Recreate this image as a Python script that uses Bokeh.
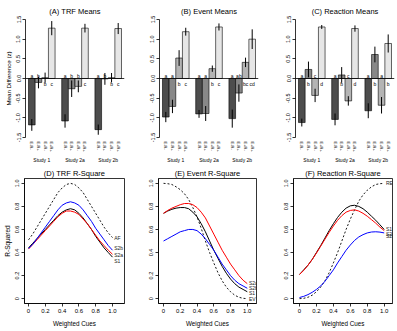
from bokeh.plotting import figure
from bokeh.models import Range1d, FixedTicker, LinearAxis, Span
from bokeh.layouts import row, column
from bokeh.embed import file_html
from bokeh.resources import INLINE
from bokeh.core.properties import value

FONT = "Liberation Sans"

# ---------------- data ----------------
studies = ["Study 1", "Study 2a", "Study 2b"]
conds = ["E-R-", "E-R+", "E+R-", "E+R+"]
bar_colors = ["#4D4D4D", "#888888", "#B4B4B4", "#E6E6E6"]

trf_means = [[-1.18, -0.10, 0.02, 1.28], [-1.08, -0.26, -0.20, 1.28], [-1.30, -0.01, 0.02, 1.27]]
trf_errs = [[0.15, 0.15, 0.13, 0.18], [0.17, 0.21, 0.15, 0.11], [0.13, 0.15, 0.12, 0.14]]
trf_letters = [["a", "b", "b", "c"], ["a", "b", "b", "c"], ["a", "b", "b", "c"]]

ev_means = [[-0.98, -0.71, 0.52, 1.19], [-0.90, -0.89, 0.25, 1.31], [-1.02, -0.37, 0.41, 1.00]]
ev_errs = [[0.13, 0.17, 0.20, 0.10], [0.10, 0.19, 0.08, 0.09], [0.23, 0.22, 0.12, 0.25]]
ev_letters = [["a", "a", "b", "c"], ["a", "a", "b", "c"], ["a", "ab", "bc", "cd"]]

re_means = [[-1.12, 0.23, -0.43, 1.31], [-1.04, 0.09, -0.57, 1.27], [-0.82, 0.61, -0.68, 0.89]]
re_errs = [[0.10, 0.20, 0.17, 0.05], [0.15, 0.20, 0.12, 0.08], [0.19, 0.20, 0.21, 0.23]]
re_letters = [["a", "b", "c", "d"], ["a", "b", "c", "d"], ["a", "b", "a", "b"]]

weights = [0.0, 0.05, 0.1, 0.15, 0.2, 0.25, 0.3, 0.35, 0.4, 0.45, 0.5,
           0.55, 0.6, 0.65, 0.7, 0.75, 0.8, 0.85, 0.9, 0.95, 1.0]

trf_af = [0.51, 0.56, 0.62, 0.68, 0.74, 0.80, 0.86, 0.92, 0.96, 0.99, 1.00,
          0.99, 0.96, 0.92, 0.86, 0.80, 0.74, 0.68, 0.62, 0.57, 0.53]
trf_s1 = [0.44, 0.48, 0.52, 0.56, 0.60, 0.64, 0.68, 0.72, 0.75, 0.77, 0.78,
          0.77, 0.74, 0.70, 0.65, 0.60, 0.54, 0.49, 0.44, 0.40, 0.36]
trf_s2a = [0.43, 0.47, 0.51, 0.55, 0.59, 0.63, 0.67, 0.71, 0.74, 0.76, 0.76,
           0.75, 0.73, 0.69, 0.65, 0.60, 0.55, 0.50, 0.46, 0.42, 0.385]
trf_s2b = [0.435, 0.47, 0.52, 0.57, 0.62, 0.67, 0.72, 0.77, 0.81, 0.83, 0.84,
           0.83, 0.81, 0.77, 0.72, 0.67, 0.61, 0.56, 0.51, 0.46, 0.42]

ev_ev = [1.0, 0.997, 0.99, 0.97, 0.945, 0.91, 0.86, 0.79, 0.71, 0.61, 0.50,
         0.40, 0.31, 0.225, 0.155, 0.10, 0.06, 0.03, 0.012, 0.003, 0.0]
ev_s1 = [0.74, 0.76, 0.775, 0.785, 0.79, 0.79, 0.78, 0.75, 0.71, 0.65, 0.58,
         0.50, 0.42, 0.35, 0.28, 0.22, 0.17, 0.13, 0.10, 0.08, 0.06]
ev_s2a = [0.74, 0.765, 0.785, 0.80, 0.815, 0.825, 0.825, 0.815, 0.79, 0.75, 0.70,
          0.63, 0.56, 0.49, 0.42, 0.36, 0.30, 0.25, 0.20, 0.16, 0.13]
ev_s2b = [0.50, 0.52, 0.54, 0.56, 0.58, 0.59, 0.60, 0.60, 0.59, 0.56, 0.52,
          0.47, 0.42, 0.36, 0.30, 0.25, 0.20, 0.16, 0.13, 0.11, 0.09]

re_re = [0.0, 0.003, 0.012, 0.03, 0.06, 0.10, 0.155, 0.225, 0.31, 0.40, 0.50,
         0.60, 0.69, 0.77, 0.845, 0.90, 0.94, 0.97, 0.99, 0.997, 1.0]
re_s1 = [0.21, 0.25, 0.29, 0.34, 0.40, 0.46, 0.525, 0.59, 0.65, 0.705, 0.75,
         0.785, 0.805, 0.81, 0.80, 0.78, 0.75, 0.715, 0.68, 0.64, 0.60]
re_s2a = [0.21, 0.245, 0.29, 0.34, 0.395, 0.455, 0.515, 0.575, 0.63, 0.68, 0.72,
          0.75, 0.765, 0.77, 0.76, 0.74, 0.715, 0.685, 0.655, 0.62, 0.59]
re_s2b = [0.01, 0.02, 0.035, 0.055, 0.08, 0.11, 0.15, 0.20, 0.25, 0.31, 0.365,
          0.42, 0.465, 0.505, 0.535, 0.555, 0.57, 0.578, 0.58, 0.577, 0.57]

y_bar_ticks = [-1.5, -1.0, -0.5, 0.0, 0.5, 1.0, 1.5]
y_bar_labels = ["-1.5", "-1.0", "-0.5", "0.0", "0.5", "1.0", "1.5"]
r_ticks = [0.0, 0.2, 0.4, 0.6, 0.8, 1.0]
r_tick_labels = ["0", "0.2", "0.4", "0.6", "0.8", "1.0"]


def style_axis(ax, size):
    ax.major_label_text_font = FONT
    ax.major_label_text_font_size = size
    ax.major_label_text_color = "black"
    ax.axis_label_text_font = FONT
    ax.axis_label_text_font_style = "normal"
    ax.axis_label_text_color = "black"
    ax.minor_tick_line_color = None
    ax.major_tick_in = 0
    ax.major_tick_out = 3
    ax.axis_line_width = 0.8
    ax.major_tick_line_width = 0.8
    ax.major_label_standoff = 2


def set_title(p, text, standoff):
    p.title.text = text
    p.title.align = "center"
    p.title.text_font = FONT
    p.title.text_font_size = "7.5px"
    p.title.text_font_style = "normal"
    p.title.text_color = "black"
    p.title.standoff = standoff


def bar_panel(title, means, errs, letters, width, left, right, ylabel=None):
    p = figure(width=width, height=165, x_range=Range1d(-0.45, 14.45), y_range=Range1d(-1.5, 1.5),
               output_backend="svg", toolbar_location=None, x_axis_location=None,
               min_border_left=left, min_border_right=right, min_border_top=17, min_border_bottom=26)
    p.outline_line_color = None
    p.grid.visible = False
    set_title(p, title, 8)

    xs, tops, cols, lo, hi = [], [], [], [], []
    lx, ly, lt = [], [], []
    for g in range(3):
        for j in range(4):
            x = g * 5 + j + 0.5
            m = means[g][j]
            e = errs[g][j]
            xs.append(x)
            tops.append(m)
            cols.append(bar_colors[j])
            lo.append(m - e)
            hi.append(m + e)
            lx.append(x)
            ly.append(0.075 if m < 0 else -0.14)
            lt.append(letters[g][j])
    p.vbar(x=xs, width=1.0, bottom=0, top=tops, fill_color=cols, line_color="black", line_width=0.6)
    p.segment(x0=xs, y0=lo, x1=xs, y1=hi, line_color="black", line_width=1)
    p.add_layout(Span(location=0, dimension="width", line_color="black", line_width=0.8))
    p.text(x=lx, y=ly, text=lt, text_font=value(FONT), text_font_size="5px",
           text_align="center", text_baseline="middle", text_color="black")

    ya = p.yaxis[0]
    style_axis(ya, "5.5px")
    ya.ticker = FixedTicker(ticks=y_bar_ticks)
    ya.major_label_overrides = dict(zip(y_bar_ticks, y_bar_labels))
    ya.major_label_orientation = "vertical"
    if ylabel:
        ya.axis_label = ylabel
        ya.axis_label_text_font_size = "6.2px"
        ya.axis_label_standoff = 2

    cat_x = [g * 5 + j + 0.5 for g in range(3) for j in range(4)]
    cat_lab = [conds[j] for g in range(3) for j in range(4)]
    cax = LinearAxis(ticker=FixedTicker(ticks=cat_x),
                     major_label_overrides=dict(zip(cat_x, cat_lab)))
    style_axis(cax, "4px")
    cax.axis_line_color = None
    cax.major_tick_line_color = None
    cax.major_tick_out = 0
    cax.major_label_standoff = 4
    cax.major_label_orientation = "vertical"
    p.add_layout(cax, "below")

    grp_x = [g * 5 + 2.0 for g in range(3)]
    sax = LinearAxis(ticker=FixedTicker(ticks=grp_x),
                     major_label_overrides=dict(zip(grp_x, studies)))
    style_axis(sax, "5px")
    sax.axis_line_color = None
    sax.major_tick_line_color = None
    sax.major_tick_out = 0
    sax.major_label_standoff = 2
    p.add_layout(sax, "below")
    return p


def curve_panel(title, series, labels, label_ys, xr, width, left, right, ylabel=None):
    p = figure(width=width, height=166, x_range=Range1d(*xr), y_range=Range1d(-0.042, 1.042),
               output_backend="svg", toolbar_location=None,
               min_border_left=left, min_border_right=right, min_border_top=10, min_border_bottom=28)
    p.grid.visible = False
    p.outline_line_color = "black"
    p.outline_line_width = 0.8
    set_title(p, title, 2)

    dotted, s1, s2a, s2b = series
    p.line(weights, dotted, line_color="black", line_width=0.9, line_dash="2 2")
    p.line(weights, s1, line_color="black", line_width=1)
    p.line(weights, s2a, line_color="red", line_width=1)
    p.line(weights, s2b, line_color="blue", line_width=1)
    p.text(x=[1.02] * len(labels), y=label_ys, text=labels, text_font=value(FONT),
           text_font_size="5px", text_align="left", text_baseline="middle", text_color="#222222")

    xa = p.xaxis[0]
    style_axis(xa, "6px")
    xa.ticker = FixedTicker(ticks=r_ticks)
    xa.major_label_overrides = dict(zip(r_ticks, r_tick_labels))
    xa.axis_label = "Weighted Cues"
    xa.axis_label_text_font_size = "6.3px"
    xa.axis_label_standoff = 4

    ya = p.yaxis[0]
    style_axis(ya, "5.5px")
    ya.ticker = FixedTicker(ticks=r_ticks)
    ya.major_label_overrides = dict(zip(r_ticks, r_tick_labels))
    ya.major_label_orientation = "vertical"
    if ylabel:
        ya.axis_label = ylabel
        ya.axis_label_text_font_size = "6.5px"
        ya.axis_label_standoff = 2
    return p


pA = bar_panel("(A) TRF Means", trf_means, trf_errs, trf_letters, 132, 25, 8, "Mean Difference (z)")
pB = bar_panel("(B) Event Means", ev_means, ev_errs, ev_letters, 133, 27, 7)
pC = bar_panel("(C) Reaction Means", re_means, re_errs, re_letters, 132, 30, 3)

pD = curve_panel("(D) TRF R-Square", [trf_af, trf_s1, trf_s2a, trf_s2b],
                 ["AF", "S2b", "S2a", "S1"], [0.53, 0.44, 0.38, 0.33],
                 (-0.048, 1.143), 132, 24, 8, "R-Squared")
pE = curve_panel("(E) Event R-Square", [ev_ev, ev_s1, ev_s2a, ev_s2b],
                 ["S2a", "S2b", "S1", "EV"], [0.135, 0.09, 0.045, 0.0],
                 (-0.06, 1.11), 133, 26, 9)
pF = curve_panel("(F) Reaction R-Square", [re_re, re_s1, re_s2a, re_s2b],
                 ["RE", "S1", "S2a", "S2b"], [1.0, 0.60, 0.565, 0.545],
                 (-0.071, 1.098), 132, 28, 5)

layout = column(row(pA, pB, pC), row(pD, pE, pF))
open("out.html", "w").write(file_html(layout, INLINE))
